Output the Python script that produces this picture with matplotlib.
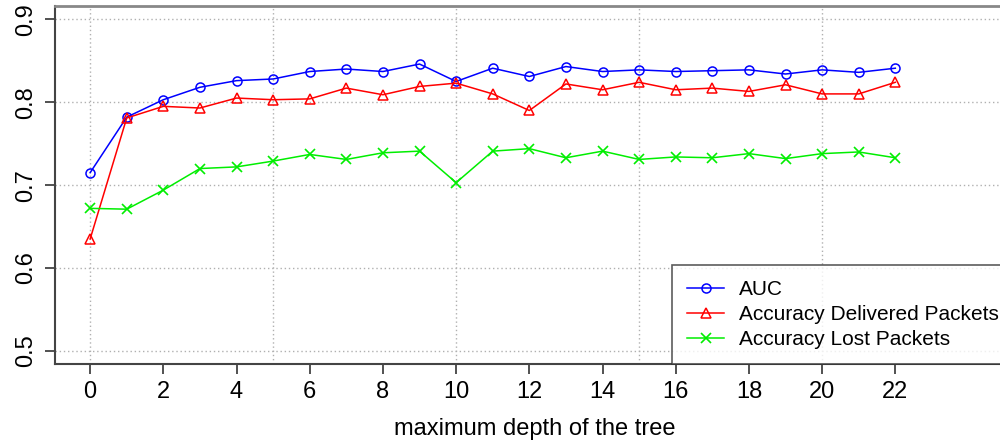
import numpy as np
import matplotlib.pyplot as plt

plt.rcParams['font.family'] = ['Liberation Sans', 'DejaVu Sans']

depth = list(range(23))
auc = [0.715, 0.782, 0.803, 0.818, 0.826, 0.828, 0.837, 0.840, 0.837, 0.846,
       0.825, 0.841, 0.831, 0.843, 0.837, 0.839, 0.837, 0.838, 0.839, 0.834,
       0.839, 0.836, 0.841]
acc_delivered = [0.635, 0.781, 0.795, 0.793, 0.805, 0.803, 0.804, 0.817, 0.809, 0.819,
                 0.823, 0.810, 0.790, 0.822, 0.815, 0.824, 0.815, 0.817, 0.813, 0.821,
                 0.810, 0.810, 0.824]
acc_lost = [0.672, 0.671, 0.694, 0.720, 0.722, 0.729, 0.737, 0.731, 0.739, 0.741,
            0.703, 0.741, 0.744, 0.733, 0.741, 0.731, 0.734, 0.733, 0.738, 0.732,
            0.738, 0.740, 0.733]
labels = ["AUC", "Accuracy Delivered Packets", "Accuracy Lost Packets"]

fig = plt.figure(figsize=(10, 4.45), dpi=100)
ax = fig.add_axes([0.055, 0.182, 0.96, 0.8045])

ax.plot(depth, auc, color="#0000ff", lw=1.1, marker="o", ms=6.5, mfc="none", mew=1.1, label=labels[0])
ax.plot(depth, acc_delivered, color="#ff0000", lw=1.1, marker="^", ms=7.5, mfc="none", mew=1.1, label=labels[1])
ax.plot(depth, acc_lost, color="#00ee00", lw=1.1, marker="x", ms=6.5, mew=1.2, label=labels[2])

ax.set_xlim(-0.96, 25.27)
ax.set_ylim(0.4843, 0.916)
ax.set_xticks(range(0, 23, 2))
ax.set_yticks([0.5, 0.6, 0.7, 0.8, 0.9])
ax.set_yticklabels(["0.5", "0.6", "0.7", "0.8", "0.9"], rotation=90, va="center")
ax.tick_params(axis="both", labelsize=17, length=7, width=1.2, color="#333333")
ax.tick_params(axis="y", pad=6)
ax.tick_params(axis="x", pad=5)

# dotted grid: vertical every 5, horizontal at y ticks
for gx in [0, 5, 10, 15, 20]:
    ax.axvline(gx, color="#b0b0b0", lw=1, ls=(0, (1, 2)), zorder=0)
for gy in [0.5, 0.6, 0.7, 0.8, 0.9]:
    ax.axhline(gy, color="#b0b0b0", lw=1, ls=(0, (1, 2)), zorder=0)

for side in ["left", "bottom"]:
    ax.spines[side].set_color("#444444")
    ax.spines[side].set_linewidth(1.5)
for side in ["top", "right"]:
    ax.spines[side].set_color("#888888")
    ax.spines[side].set_linewidth(2)

ax.set_xlabel("maximum depth of the tree", fontsize=17, labelpad=11)

leg = ax.legend(loc="lower left", bbox_to_anchor=(0.643, 0.0), fontsize=15,
                frameon=True, fancybox=False, borderaxespad=0, handlelength=1.8,
                labelspacing=0.3, borderpad=0.7, handletextpad=0.7)
leg.get_frame().set_edgecolor("#333333")
leg.get_frame().set_linewidth(1.2)

fig.savefig("out.png", dpi=100)
